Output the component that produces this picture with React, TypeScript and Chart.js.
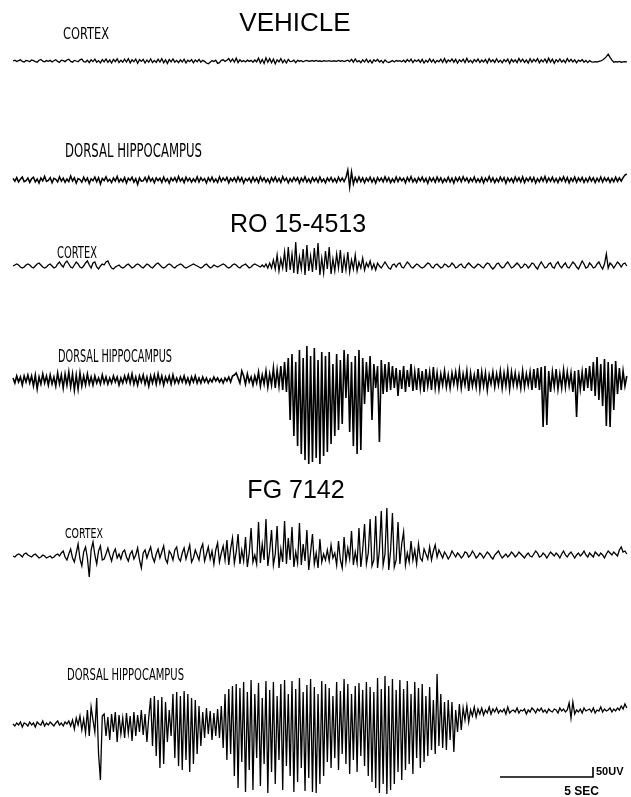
import React, { useEffect, useRef } from "react";
import { Chart, registerables } from "chart.js";

Chart.register(...registerables);

// ---- DATA (µV, one sample every 0.1 s) ----
const SAMPLE_STEP = 0.1; // s

const sectionTitles = ["VEHICLE", "RO 15-4513", "FG 7142"];
const regionLabels = ["CORTEX", "DORSAL HIPPOCAMPUS"];
const scaleBarUV = 50;
const scaleBarSec = 5;
const scaleBarLabels = ["50UV", "5 SEC"];

const vehicleCortex = [
  0,4,-3,2,6,-2,-5,3,1,-4,
  5,2,-3,-6,4,8,-1,-4,2,-2,
  3,-5,1,6,-2,-7,4,2,-3,5,
  9,-2,-6,3,0,-4,6,10,-3,-5,
  4,-8,6,-3,9,-6,2,-9,7,-4,
  10,-7,5,-10,8,-3,11,-8,4,-6,
  9,-5,12,-9,6,-4,10,-11,7,-2,
  8,-10,5,-6,11,-8,3,-7,9,-5,
  12,-9,6,-12,8,-4,10,-6,3,-8,
  6,-5,9,-10,4,-3,7,-9,5,-4,
  8,-6,3,-2,-10,-14,-6,2,-3,4,
  -12,-8,3,6,-2,4,12,-4,10,-6,
  14,-8,6,-3,2,-5,4,-2,3,-6,
  5,-4,14,-10,8,-12,16,-6,12,-9,
  10,-14,6,-4,12,-8,5,-10,8,-3,
  -2,4,-8,3,-1,2,-4,1,3,-2,
  0,2,-1,3,-2,1,-3,2,0,-1,
  2,-2,1,0,-2,3,-1,2,-3,1,
  4,-3,8,-6,10,-4,2,-8,6,-5,
  9,-7,4,-10,6,-2,8,-5,3,-9,
  5,-4,-8,-3,2,-5,3,-1,2,-4,
  4,-6,7,-3,9,-8,5,-2,6,-7,
  8,-10,4,-6,11,-5,7,-9,3,-4,
  9,-7,12,-8,5,-3,10,-6,8,-11,
  6,-4,9,-8,13,-6,4,-9,7,-3,
  10,-8,5,-5,8,-10,12,-4,6,-7,
  11,-6,4,-9,7,-3,10,-12,8,-5,
  6,-8,13,-4,9,-7,5,-10,11,-6,
  8,-3,12,-9,6,-5,10,-8,14,-6,
  9,-11,7,-4,10,-6,5,-8,12,-3,
  8,-5,6,-9,4,-2,7,-6,3,-8,
  2,-4,-6,-3,-5,-2,1,5,12,22,
  34,18,4,-6,-3,-5,-2,-6,-4,-3,-5,
];

const vehicleHippocampus = [
  8,-6,12,-10,4,15,-8,-3,10,-12,
  6,14,-9,5,-15,10,-4,18,-7,-2,
  12,-14,8,3,-10,16,-6,9,-12,5,
  -8,20,-5,11,-16,7,2,-11,14,-6,
  10,-18,6,-4,15,-9,12,-20,8,-3,
  16,-7,4,-13,10,-5,18,-10,6,-8,
  12,-15,9,-2,14,-11,7,-22,10,-6,
  -4,13,-9,17,-6,8,-14,11,-3,9,
  -12,15,-7,6,-16,10,-4,12,-9,18,
  -6,8,-13,14,-5,9,-11,6,-8,16,
  -10,12,-4,7,-15,11,-6,14,-9,5,
  -12,16,-7,10,-3,13,-14,8,-5,11,
  -9,15,-6,12,-16,7,-4,10,-11,14,
  -7,9,-13,16,-5,11,-10,6,-15,12,
  -6,14,-9,8,-12,17,-4,10,-14,7,
  -8,13,-5,11,-15,9,-7,16,-10,6,
  -13,12,-6,9,-11,15,-8,5,-14,10,
  -5,13,-9,7,-12,14,-6,10,-8,12,
  50,-35,40,-20,12,-10,15,-8,11,-14,
  9,-6,14,-11,8,-15,12,-5,10,-9,
  16,-7,11,-13,6,-10,15,-8,12,-4,
  9,-14,13,-6,17,-10,7,-12,11,-5,
  14,-9,8,-16,12,-6,10,-11,15,-7,
  11,-13,6,-8,14,-10,9,-15,12,-6,
  13,-9,16,-5,10,-12,8,-7,15,-11,
  6,-10,12,-14,9,-6,17,-8,11,-13,
  7,-9,14,-5,12,-16,10,-7,8,-12,
  15,-6,11,-10,16,-13,9,-5,14,-8,
  12,-15,7,-9,13,-6,18,-11,10,-7,
  14,-10,8,-13,11,-5,16,-9,12,-14,
  9,-7,15,-11,10,-6,13,-12,8,-9,
  14,-6,11,-13,9,-8,15,-10,12,-5,
  10,-12,8,-9,14,-7,11,-6,12,25,30,
];

const roCortex = [
  0,5,10,5,-5,-10,-5,5,10,5,
  -5,-10,0,10,15,5,-5,-10,-5,5,
  10,0,-10,-5,10,20,5,-5,15,25,
  10,-5,-10,5,20,10,-5,-10,0,15,
  25,5,-10,15,20,-5,-15,0,10,5,
  20,25,5,-10,-15,-5,0,5,-5,-10,
  -5,5,10,0,-10,-5,5,10,5,-5,
  -10,0,10,5,-5,-10,0,10,15,5,
  -5,-10,-5,5,10,5,-5,-10,0,5,
  10,5,-5,-10,-5,0,5,10,5,0,
  -5,-10,-5,5,10,0,-10,-5,5,0,
  -5,0,5,10,5,-5,-10,-5,5,10,
  5,-5,-10,0,5,10,0,-10,-5,5,
  10,5,0,-5,5,-5,10,-10,15,-10,
  30,-15,55,-25,35,-10,70,-30,95,-20,
  60,-35,120,-40,45,-15,85,-45,105,-25,
  50,-30,90,-20,115,-45,40,-35,75,-15,
  95,-40,35,-25,60,-10,80,-35,45,-20,
  70,-30,30,-15,55,-25,20,-10,40,-20,
  15,-5,25,-15,10,-20,15,0,-10,5,
  20,5,-10,-15,5,10,-5,10,15,-5,
  -10,5,20,10,-5,-10,0,10,5,-5,
  -10,-5,5,15,10,-5,-10,5,10,0,
  -10,-5,10,5,-5,0,15,5,-10,-5,
  5,10,-5,-10,5,15,5,-5,-10,0,
  10,5,-5,-10,5,15,10,-5,-15,-5,
  10,15,0,-10,-5,10,20,5,-10,-5,
  5,15,5,-10,-5,10,5,-10,0,15,
  10,-5,-15,5,20,5,-10,-5,10,15,
  -5,-10,10,20,0,-10,5,15,-5,-10,
  5,20,10,-5,-15,5,25,10,-10,-5,
  15,5,-10,-5,10,20,0,-15,10,60,
  -10,15,5,-10,5,20,10,-5,10,15,0,
];

const roHippocampus = [
  10,-15,20,-10,15,-25,20,-10,25,-15,
  20,-30,25,-45,15,-20,30,-15,20,-25,
  25,-20,15,-30,35,-20,25,-40,30,-25,
  40,-35,30,-50,25,-45,35,-30,20,-25,
  30,-20,15,-25,20,-15,10,-20,25,-15,
  15,-20,10,-15,20,-10,15,-25,10,-15,
  20,-10,25,-15,30,-20,15,-25,20,-10,
  25,-20,15,-30,20,-15,25,-20,30,-15,
  20,-25,15,-10,20,-20,25,-15,10,-15,
  15,-10,20,-15,10,-20,15,-10,20,-15,
  10,-15,15,-10,10,-15,5,-10,15,-5,
  10,-10,5,-15,10,-5,15,-10,20,25,
  35,10,-15,45,20,-20,30,-10,15,-25,
  20,-15,40,-30,25,-20,45,-35,30,-25,
  60,-40,50,-30,70,-50,90,-60,110,-200,
  130,-280,90,-330,150,-370,110,-400,170,-420,
  120,-410,160,-390,100,-420,140,-380,120,-360,
  140,-320,80,-280,130,-250,100,-220,150,-90,
  130,-260,90,-330,120,-370,150,-350,110,-120,
  90,-60,120,-200,80,-40,70,-310,100,-70,
  80,-60,90,-50,70,-40,60,-80,50,-45,
  70,-60,50,-35,80,-55,40,-50,60,-40,
  45,-60,55,-30,40,-50,65,-40,35,-45,
  30,-25,45,-35,25,-40,35,-20,40,-30,
  50,-40,30,-25,45,-55,35,-30,25,-35,
  55,-45,40,-30,35,-50,25,-20,40,-35,
  30,-25,45,-40,35,-30,50,-45,40,-25,
  35,-30,25,-40,45,-35,30,-25,40,-50,
  55,-40,60,-50,65,-235,70,-225,45,-60,
  40,-35,55,-45,30,-40,50,-35,40,-30,
  35,-60,45,-185,50,-45,40,-55,60,-40,
  70,-55,90,-80,115,-100,80,-130,105,-230,
  90,-235,80,-150,95,-70,60,-50,45,-30,20,
];

const fgCortex = [
  0,-5,5,10,5,-5,10,15,5,0,
  -5,5,10,0,-10,-5,5,0,-10,-5,
  0,-10,-5,5,10,0,15,25,-5,-20,
  10,35,-10,-30,15,60,-15,-50,20,45,
  -10,-105,30,70,5,-40,25,50,-20,-15,
  10,40,5,-25,15,35,-10,10,-15,20,
  30,-5,-25,10,25,-15,5,40,-20,-60,
  15,30,-10,20,45,-5,-30,10,35,-10,
  20,50,-15,-35,25,10,-20,30,45,-10,
  -25,15,40,-15,20,55,-30,-10,30,5,
  -20,35,60,-25,10,45,-15,25,-40,30,
  65,-30,15,50,-20,80,-45,35,90,-35,
  20,110,-40,30,-25,95,-55,15,140,-30,
  5,-40,170,-35,60,-20,185,-50,25,130,
  -45,10,150,-60,35,-30,175,-40,90,-20,
  145,-55,20,-35,165,-45,60,-25,130,-70,
  20,110,-40,15,-60,85,-30,10,-20,30,
  -25,55,-10,15,-45,75,-20,-60,95,-30,
  40,-15,125,-45,20,-35,140,-55,30,160,
  -40,15,185,-50,-20,200,-60,30,225,-45,
  10,240,-70,25,215,-55,-20,170,-40,60,
  120,-45,15,-30,75,-20,30,-40,60,-10,
  -25,35,10,-15,45,-20,25,55,-5,30,
  10,-10,20,5,-15,0,25,10,-5,15,
  5,-10,0,20,15,-5,5,25,10,-10,
  0,15,5,-10,5,20,10,-5,-15,5,
  15,25,5,-10,0,10,-5,5,20,10,
  -5,5,20,10,0,-10,5,15,0,-5,
  10,25,15,-5,0,15,5,-10,5,20,
  10,0,15,5,-10,10,25,5,-5,10,
  20,5,-10,5,15,0,10,25,5,-5,
  15,5,-5,20,10,0,15,5,-10,10,
  25,15,5,20,10,0,30,45,20,25,10,
];

const fgHippocampus = [
  0,-10,5,-5,10,-15,5,0,-10,10,
  -5,5,-15,10,0,-5,15,-10,5,-5,
  10,0,-10,5,15,-5,5,-10,10,0,
  15,-10,20,-25,30,-5,40,-30,25,-45,
  70,-60,85,20,-40,130,-150,-280,40,50,
  -60,35,-80,50,-40,60,-90,45,-50,30,
  -70,55,-45,40,-85,60,-60,45,-40,70,
  -55,50,-90,35,130,-110,140,-160,120,-220,
  135,-200,110,-90,70,-60,150,-170,160,-210,
  140,-230,165,-180,150,-240,130,-200,120,-150,
  90,-110,60,-70,80,-50,65,-80,55,-60,
  75,-70,90,-120,150,-180,175,-150,190,-260,
  200,-320,180,-190,210,-340,160,-230,220,-330,
  150,-170,205,-310,130,-200,215,-345,170,-240,
  210,-300,140,-180,200,-330,220,-210,150,-260,
  215,-340,175,-290,230,-220,160,-335,195,-270,
  225,-340,185,-345,150,-300,215,-260,200,-190,
  180,-220,140,-170,210,-230,165,-150,225,-200,
  200,-250,150,-180,190,-240,205,-160,170,-210,
  210,-260,185,-290,160,-320,230,-345,175,-300,
  240,-350,190,-330,225,-300,170,-240,220,-280,
  175,-230,215,-200,150,-250,210,-170,180,-220,
  200,-190,140,-160,185,-130,120,-150,250,-110,
  150,-120,110,-130,120,-80,110,-140,70,-40,
  100,-30,80,20,90,10,70,40,85,35,
  75,50,80,45,70,55,85,50,75,60,
  80,55,70,60,75,50,85,55,65,70,
  60,80,55,70,65,75,50,70,60,80,
  70,55,75,65,80,60,70,55,75,65,
  60,75,70,55,80,65,75,60,70,105,
  30,110,50,70,60,75,55,80,65,70,
  75,60,80,55,70,65,85,60,75,65,
  70,80,60,75,65,80,70,90,75,100,80,
];

// ---- LAYOUT ----
const W = 631;
const H = 797;
const PX_PER_SEC = 18.6;
const UV_PER_PX = 5;
const TRACE_X0 = 13; // px where t = 0

const traces = [
  { values: vehicleCortex, basePx: 61, width: 1.3 },
  { values: vehicleHippocampus, basePx: 180, width: 1.5 },
  { values: roCortex, basePx: 266, width: 1.3 },
  { values: roHippocampus, basePx: 380, width: 1.6 },
  { values: fgCortex, basePx: 556, width: 1.3 },
  { values: fgHippocampus, basePx: 724, width: 1.3 },
];

const titleSpecs = [
  { text: sectionTitles[0], cx: 295, base: 31, size: 26 },
  { text: sectionTitles[1], cx: 298, base: 232, size: 25 },
  { text: sectionTitles[2], cx: 296, base: 498, size: 25 },
];

const labelSpecs = [
  { text: regionLabels[0], x: 63, w: 46, base: 39, h: 11 },
  { text: regionLabels[1], x: 65, w: 137, base: 157, h: 14 },
  { text: regionLabels[0], x: 57, w: 40, base: 258, h: 11 },
  { text: regionLabels[1], x: 58, w: 114, base: 362, h: 13 },
  { text: regionLabels[0], x: 65, w: 38, base: 538, h: 10 },
  { text: regionLabels[1], x: 67, w: 117, base: 680, h: 12 },
];

const textPlugin = {
  id: "eegText",
  afterDraw(chart: any) {
    const ctx = chart.ctx as CanvasRenderingContext2D;
    const xs = chart.scales.x;
    const ys = chart.scales.y;
    ctx.save();
    ctx.fillStyle = "#000";
    ctx.textBaseline = "alphabetic";
    ctx.textAlign = "center";
    for (const t of titleSpecs) {
      ctx.font = `${t.size}px 'Liberation Sans', Arial, sans-serif`;
      ctx.fillText(t.text, t.cx, t.base);
    }
    ctx.textAlign = "left";
    for (const l of labelSpecs) {
      const size = l.h / 0.73;
      ctx.font = `${size.toFixed(1)}px 'DejaVu Sans Condensed', 'DejaVu Sans', sans-serif`;
      const m = ctx.measureText(l.text).width;
      ctx.save();
      ctx.translate(l.x, l.base);
      ctx.scale(l.w / m, 1);
      ctx.fillText(l.text, 0, 0);
      ctx.restore();
    }
    // scale bar, through the scales
    const t0 = (500 - TRACE_X0) / PX_PER_SEC;
    const v0 = -777 * UV_PER_PX;
    const xa = xs.getPixelForValue(t0);
    const xb = xs.getPixelForValue(t0 + scaleBarSec);
    const ya = ys.getPixelForValue(v0);
    const yb = ys.getPixelForValue(v0 + scaleBarUV);
    ctx.strokeStyle = "#000";
    ctx.lineWidth = 1.6;
    ctx.beginPath();
    ctx.moveTo(xa, ya);
    ctx.lineTo(xb, ya);
    ctx.lineTo(xb, yb);
    ctx.stroke();
    ctx.font = "bold 11px 'Liberation Sans', Arial, sans-serif";
    ctx.fillText(scaleBarLabels[0], xb + 3, ya - 2);
    ctx.font = "bold 12px 'Liberation Sans', Arial, sans-serif";
    ctx.textAlign = "center";
    ctx.fillText(scaleBarLabels[1], (xa + xb) / 2 + 35, ya + 18);
    ctx.restore();
  },
};

export default function App() {
  const ref = useRef<HTMLCanvasElement | null>(null);

  useEffect(() => {
    if (!ref.current) return;
    const datasets = traces.map((tr) => ({
      data: tr.values.map((v, i) => ({ x: i * SAMPLE_STEP, y: v - tr.basePx * UV_PER_PX })),
      borderColor: "#000",
      borderWidth: tr.width,
      pointRadius: 0,
      tension: 0,
      fill: false,
    }));
    const chart = new Chart(ref.current, {
      type: "line",
      data: { datasets },
      options: {
        animation: false,
        responsive: false,
        devicePixelRatio: 1,
        layout: { padding: 0 },
        plugins: { legend: { display: false }, tooltip: { enabled: false }, title: { display: false } },
        scales: {
          x: {
            type: "linear",
            display: false,
            min: -TRACE_X0 / PX_PER_SEC,
            max: (W - TRACE_X0) / PX_PER_SEC,
          },
          y: {
            type: "linear",
            display: false,
            min: -H * UV_PER_PX,
            max: 0,
          },
        },
      },
      plugins: [textPlugin],
    });
    return () => chart.destroy();
  }, []);

  return (
    <div style={{ position: "absolute", left: 0, top: 0, width: W, height: H, background: "#fff" }}>
      <canvas ref={ref} width={W} height={H} style={{ display: "block", width: W, height: H }} />
    </div>
  );
}
